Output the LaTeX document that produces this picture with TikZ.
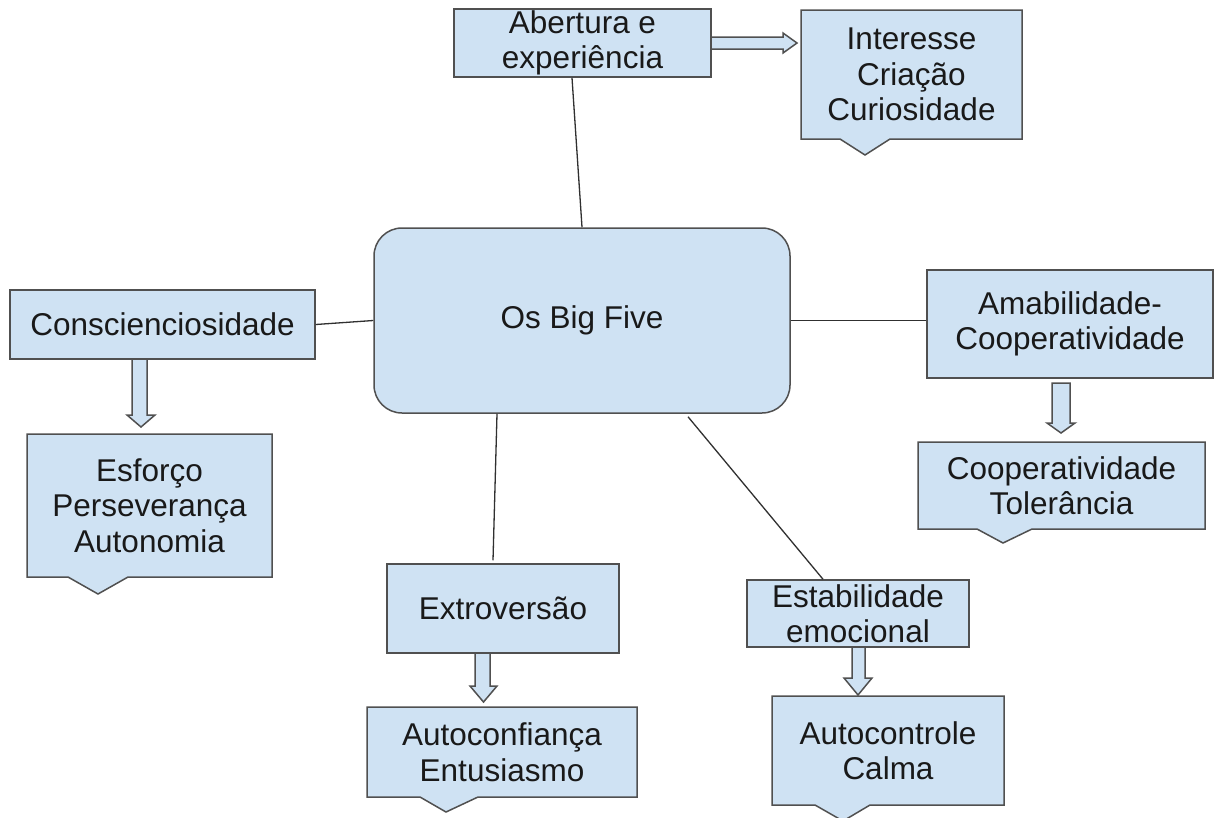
\documentclass[tikz,border=0pt]{standalone}
\usepackage{fontspec}
\usetikzlibrary{calc}
\setmainfont{Liberation Sans}
\definecolor{boxfill}{HTML}{CFE2F3}
\definecolor{boxline}{HTML}{505050}
\definecolor{conline}{HTML}{303030}
\newcommand\bodyfont{\fontsize{31.5}{35.5}\selectfont}
\begin{document}
\begin{tikzpicture}[x=1pt,y=-1pt,
  boxstyle/.style={draw=boxline, fill=boxfill, line width=1.5pt, line join=miter},
  txt/.style={inner sep=0pt, align=center, font=\bodyfont, text=black!90},
  conn/.style={draw=conline, line width=1.3pt},
  blockarrow/.style={draw=boxline, fill=boxfill, line width=1.5pt, line join=miter}]
\useasboundingbox (0,0) rectangle (1214,817);
\fill[white] (0,0) rectangle (1214,817);

% callout shapes (box with pointer)
\filldraw[boxstyle] (801,10) -- (1022,10) -- (1022,139) -- (890,139) -- (865,155) -- (840,139) -- (801,139) -- cycle;
\filldraw[boxstyle] (27,434) -- (272,434) -- (272,577) -- (128,577) -- (98,594) -- (68,577) -- (27,577) -- cycle;
\filldraw[boxstyle] (367,707) -- (637,707) -- (637,797) -- (478,797) -- (446,812) -- (420,797) -- (367,797) -- cycle;
\filldraw[boxstyle] (772,696) -- (1004,696) -- (1004,805) -- (870,805) -- (843,821) -- (815,805) -- (772,805) -- cycle;
\filldraw[boxstyle] (918,442) -- (1205,442) -- (1205,529) -- (1032,529) -- (1003,543) -- (977,529) -- (918,529) -- cycle;

% plain boxes
\node[boxstyle, txt, minimum width=257pt, minimum height=68pt] (ab) at (582.5,43) {Abertura e\\experiência};
\node[boxstyle, txt, rounded corners=28pt, minimum width=416pt, minimum height=185pt] (big) at (582,320.5) {Os Big Five};
\node[boxstyle, txt, minimum width=305pt, minimum height=69pt] (co) at (162.5,324.5) {Conscienciosidade};
\node[boxstyle, txt, minimum width=232pt, minimum height=89pt] (ex) at (503,608.5) {Extroversão};
\node[boxstyle, txt, minimum width=222pt, minimum height=67pt] (est) at (858,613.5) {Estabilidade\\emocional};
\node[boxstyle, txt, minimum width=286pt, minimum height=108pt] (am) at (1070,324) {Amabilidade-\\Cooperatividade};

% callout texts
\node[txt] (in) at (911.5,74.5) {Interesse\\Criação\\Curiosidade};
\node[txt] (es) at (149.5,505.5) {Esforço\\Perseverança\\Autonomia};
\node[txt] (au) at (502,752) {Autoconfiança\\Entusiasmo};
\node[txt] (ac) at (888,750.5) {Autocontrole\\Calma};
\node[txt] (cp) at (1061.5,485.5) {Cooperatividade\\Tolerância};

% connector lines
\draw[conn] ($(ab.south)+(-10.5,0)$) -- (big.north);
\draw[conn] (co.east) -- (big.west);
\draw[conn] (big.east) -- (big.east -| am.west);
\draw[conn] ($(big.south)+(-85,0)$) -- ($(ex.north)+(-10,-3)$);
\draw[conn] ($(big.south)+(106,3)$) -- ($(est.north)+(-35,0)$);

% block arrows
\filldraw[blockarrow] (711,37) -- (783,37) -- (783,33) -- (797,43) -- (783,53) -- (783,49) -- (711,49) -- cycle;
\filldraw[blockarrow] (132,359) -- (132,415) -- (127,415) -- (141,427) -- (155,415) -- (147,415) -- (147,359) -- cycle;
\filldraw[blockarrow] (475,653) -- (475,686) -- (470,686) -- (483.5,702) -- (497,686) -- (490,686) -- (490,653) -- cycle;
\filldraw[blockarrow] (852,647) -- (852,678) -- (844,678) -- (858,695) -- (872,678) -- (865,678) -- (865,647) -- cycle;
\filldraw[blockarrow] (1052,383) -- (1052,423) -- (1047,423) -- (1061,433) -- (1075,423) -- (1070,423) -- (1070,383) -- cycle;
\end{tikzpicture}
\end{document}
